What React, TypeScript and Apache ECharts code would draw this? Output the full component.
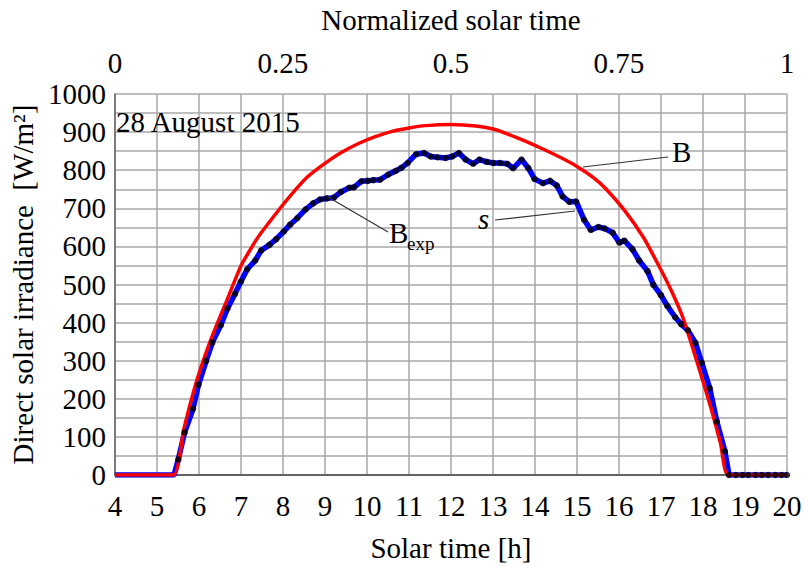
import React, { useEffect, useRef } from "react";
import * as echarts from "echarts";

// Measured direct solar irradiance (Bexp, dotted blue line) – solar time [h] and W/m²
const measuredHours = [
  4, 5.41, 5.51, 5.66, 5.86, 5.99, 6.17, 6.32, 6.52, 6.68, 6.86, 7.0, 7.15, 7.34, 7.48, 7.68, 7.84,
  8.02, 8.17, 8.34, 8.54, 8.72, 8.88, 9.04, 9.21, 9.38, 9.58, 9.69, 9.87, 10.02, 10.15, 10.31, 10.5,
  10.68, 10.82, 10.97, 11.17, 11.36, 11.52, 11.68, 11.87, 12.03, 12.19, 12.35, 12.53, 12.68, 12.85,
  13.01, 13.17, 13.34, 13.48, 13.68, 13.84, 13.99, 14.19, 14.36, 14.52, 14.66, 14.82, 14.98, 15.17,
  15.33, 15.51, 15.66, 15.85, 16.01, 16.13, 16.32, 16.48, 16.68, 16.82, 17.0, 17.15, 17.34, 17.48,
  17.64, 17.82, 17.97, 18.16, 18.33, 18.52, 18.62, 18.78, 18.94, 19.08, 19.25, 19.4, 19.55, 19.72,
  19.87, 20,
];
const measuredValues = [
  0, 0, 41, 112, 174, 237, 299, 348, 393, 437, 476, 508, 540, 563, 589, 604, 619,
  639, 657, 674, 697, 713, 723, 726, 728, 743, 754, 755, 771, 772, 774, 775, 788,
  798, 806, 819, 842, 845, 836, 834, 832, 836, 845, 828, 817, 828, 822,
  819, 819, 817, 805, 828, 806, 777, 766, 772, 760, 731, 717, 718, 670,
  643, 651, 647, 636, 610, 615, 593, 563, 535, 499, 472, 444, 414, 396,
  380, 347, 295, 228, 140, 63, 0, 0, 0, 0, 0, 0, 0, 0,
  0, 0,
];
// number of leading points drawn without a dot marker
const undottedLead = 2;

// Model direct irradiance (B, red line)
const modelHours = [
  4, 5.4, 5.64, 5.95, 6.31, 6.66, 7.01, 7.4, 7.84, 8.2, 8.58, 9.0, 9.4, 9.8, 10.2, 10.6, 11.0, 11.4,
  12.0, 12.6, 13.0, 13.4, 13.8, 14.2, 14.6, 15.0, 15.4, 15.68, 16.15, 16.58, 16.93, 17.25, 17.52,
  17.72, 17.91, 18.19, 18.42, 18.59, 20,
];
const modelValues = [
  0, 0, 120, 248, 363, 457, 551, 623, 687, 736, 782, 818, 847, 870, 888, 902, 911, 917,
  920, 916, 908, 893, 875, 855, 834, 810, 780, 752, 692, 624, 553, 483, 414,
  346, 278, 176, 82, 0, 0,
];

const yLabelStep = 100;

const FONT = "Liberation Serif";
const FS = 29;

export default function App() {
  const ref = useRef<HTMLDivElement>(null);
  useEffect(() => {
    document.body.style.margin = "0";
    if (!ref.current) return;
    const chart = echarts.init(ref.current, undefined, { renderer: "svg" });
    const lineData = measuredHours.map((h, i) => [h, measuredValues[i]]);
    const dotData = lineData.slice(undottedLead);
    const modelData = modelHours.map((h, i) => [h, modelValues[i]]);
    const gridColor = "#a9a9a9";
    const txt = { fontFamily: FONT, fontSize: FS, color: "#000" };
    chart.setOption({
      animation: false,
      backgroundColor: "#ffffff",
      textStyle: { fontFamily: FONT, color: "#000" },
      grid: { left: 107, right: 18, top: 91, bottom: 85, containLabel: false },
      xAxis: [
        {
          type: "value",
          position: "bottom",
          min: 4,
          max: 20,
          interval: 1,
          name: "Solar time [h]",
          nameLocation: "middle",
          nameGap: 58,
          nameTextStyle: txt,
          axisLine: { show: true, onZero: false, lineStyle: { color: "#444", width: 1.5 } },
          axisTick: { show: false },
          axisLabel: { ...txt, margin: 16 },
          splitLine: { show: true, lineStyle: { color: gridColor, width: 1.5 } },
        },
        {
          type: "value",
          position: "top",
          min: 0,
          max: 1,
          interval: 0.25,
          name: "Normalized solar time",
          nameLocation: "middle",
          nameGap: 60,
          nameTextStyle: txt,
          axisLine: { show: false },
          axisTick: { show: false },
          axisLabel: { ...txt, margin: 17 },
          splitLine: { show: false },
        },
      ],
      yAxis: [
        {
          type: "value",
          min: 0,
          max: 1000,
          interval: yLabelStep / 2,
          name: "Direct solar irradiance  [W/m²]",
          nameLocation: "middle",
          nameRotate: 90,
          nameGap: 68,
          nameTextStyle: txt,
          axisLine: { show: true, onZero: false, lineStyle: { color: "#666", width: 1.5 } },
          axisTick: { show: false },
          axisLabel: {
            ...txt,
            margin: 9,
            formatter: (v: number) => (v % yLabelStep === 0 ? String(v) : ""),
          },
          splitLine: { show: true, lineStyle: { color: gridColor, width: 1.5 } },
        },
      ],
      series: [
        {
          name: "Bexp",
          type: "line",
          xAxisIndex: 0,
          yAxisIndex: 0,
          data: lineData,
          showSymbol: false,
          lineStyle: { color: "#0000ff", width: 5.5 },
          z: 2,
        },
        {
          name: "B",
          type: "line",
          xAxisIndex: 0,
          yAxisIndex: 0,
          data: modelData,
          showSymbol: false,
          smooth: 0.15,
          lineStyle: { color: "#ff0000", width: 3.5 },
          z: 3,
        },
        {
          name: "s",
          type: "scatter",
          xAxisIndex: 0,
          yAxisIndex: 0,
          data: dotData,
          symbol: "circle",
          symbolSize: 6.5,
          itemStyle: { color: "#000" },
          z: 4,
        },
      ],
      graphic: [
        {
          type: "text",
          x: 116,
          y: 122,
          z: 100,
          style: { text: "28 August 2015", fontFamily: FONT, fontSize: FS, fill: "#000", verticalAlign: "middle" },
        },
        { type: "line", z: 100, shape: { x1: 583, y1: 167, x2: 668, y2: 157 }, style: { stroke: "#333", lineWidth: 1.2 } },
        {
          type: "text",
          x: 672,
          y: 152,
          z: 100,
          style: { text: "B", fontFamily: FONT, fontSize: FS, fill: "#000", verticalAlign: "middle" },
        },
        { type: "line", z: 100, shape: { x1: 328, y1: 197, x2: 388, y2: 232 }, style: { stroke: "#333", lineWidth: 1.2 } },
        {
          type: "text",
          x: 389,
          y: 233,
          z: 100,
          style: { text: "B", fontFamily: FONT, fontSize: FS, fill: "#000", verticalAlign: "middle" },
        },
        {
          type: "text",
          x: 407,
          y: 243,
          z: 100,
          style: { text: "exp", fontFamily: FONT, fontSize: 19, fill: "#000", verticalAlign: "middle" },
        },
        { type: "line", z: 100, shape: { x1: 495, y1: 220, x2: 575, y2: 211 }, style: { stroke: "#333", lineWidth: 1.2 } },
        {
          type: "text",
          x: 478,
          y: 219,
          z: 100,
          style: { text: "s", fontFamily: FONT, fontSize: FS, fontStyle: "italic", fill: "#000", verticalAlign: "middle" },
        },
      ],
    });
    return () => chart.dispose();
  }, []);
  return <div ref={ref} style={{ width: 805, height: 567 }} />;
}
